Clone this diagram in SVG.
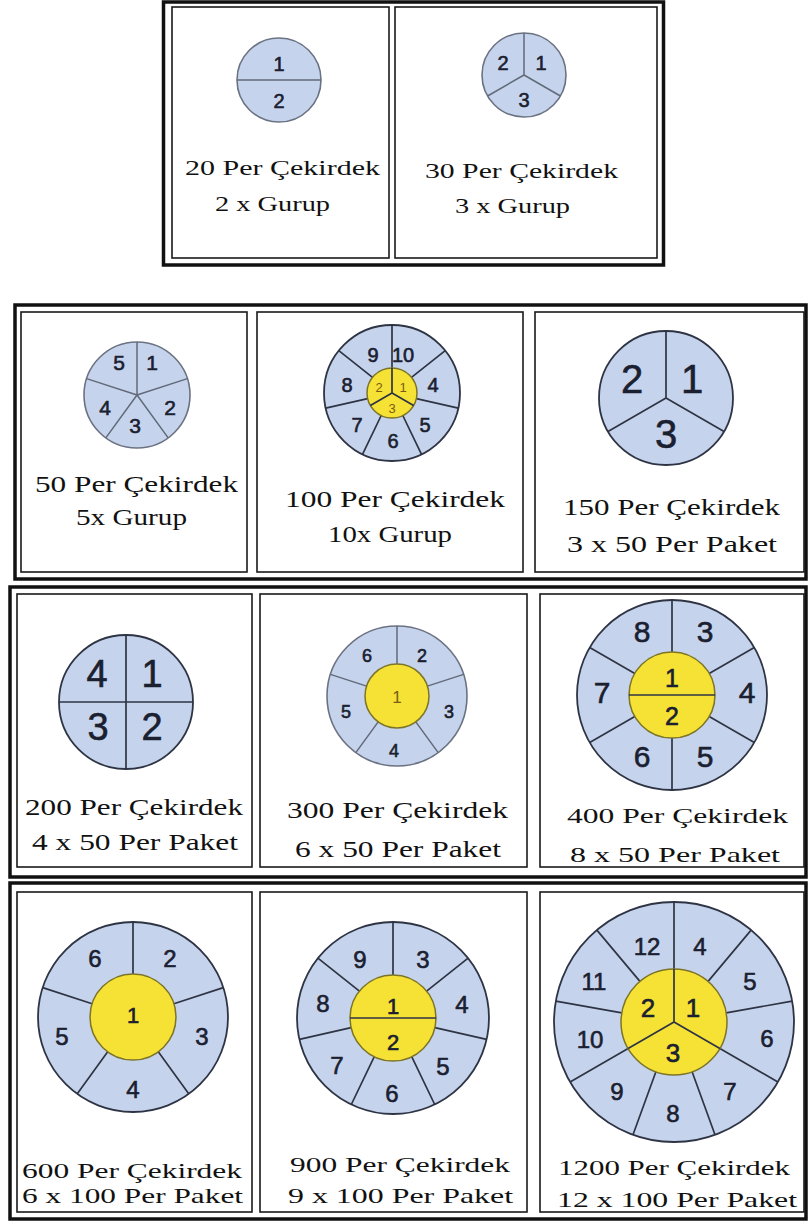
<svg xmlns="http://www.w3.org/2000/svg" width="808" height="1227" viewBox="0 0 808 1227">
<style>
.outer{fill:none;stroke:#111;stroke-width:3.5}
.panel{fill:#fff;stroke:#1a1a1a;stroke-width:1.6}
.disc{fill:#c5d4ec;stroke:#2e3444;stroke-width:1.8}
.discl{fill:#c5d4ec;stroke:#6b7282;stroke-width:1.6}
.core{fill:#f6e234;stroke:#7d7428;stroke-width:1.5}
.sp{stroke:#2e3444;stroke-width:1.7;fill:none}
.spl{stroke:#626a7a;stroke-width:1.5;fill:none}
.n{font-family:"Liberation Sans",Arial,sans-serif;fill:#1b2030;text-anchor:middle;stroke:#1b2030;stroke-width:0.6}
.ni{font-family:"Liberation Sans",Arial,sans-serif;fill:#7a5a14;text-anchor:middle}
.cap{font-family:"Liberation Serif","Times New Roman",serif;fill:#111}
</style>
<rect x="0" y="0" width="808" height="1227" fill="#fff"/>

<!-- frames -->
<g id="frames">
<rect class="outer" x="163.5" y="2" width="500" height="263"/>
<rect class="outer" x="15" y="305" width="791" height="274"/>
<rect class="outer" x="10" y="587" width="796" height="290"/>
<rect class="outer" x="10" y="883" width="796" height="336" stroke-width="4"/>
</g>

<g id="n20">
<rect class="panel" x="172" y="7" width="217" height="251"/>
<circle class="discl" cx="279" cy="80" r="42"/>
<line class="spl" x1="237" y1="80" x2="321" y2="80"/>
<text class="n" x="279" y="71" font-size="20">1</text>
<text class="n" x="279" y="108" font-size="20">2</text>
<text class="cap" x="185" y="175" font-size="21" textLength="195" lengthAdjust="spacingAndGlyphs">20 Per Çekirdek</text>
<text class="cap" x="215" y="211" font-size="21" textLength="115" lengthAdjust="spacingAndGlyphs">2 x Gurup</text>
</g>

<g id="n30">
<rect class="panel" x="395" y="7" width="262" height="251"/>
<circle class="discl" cx="524" cy="75" r="42"/>
<path class="spl" d="M524 75V33M524 75L487.6 96M524 75L560.4 96"/>
<text class="n" x="503" y="70" font-size="20">2</text>
<text class="n" x="541" y="70" font-size="20">1</text>
<text class="n" x="524" y="107" font-size="20">3</text>
<text class="cap" x="425" y="178" font-size="21" textLength="193" lengthAdjust="spacingAndGlyphs">30 Per Çekirdek</text>
<text class="cap" x="455" y="213" font-size="21" textLength="115" lengthAdjust="spacingAndGlyphs">3 x Gurup</text>
</g>

<g id="n50">
<rect class="panel" x="21" y="312" width="226" height="260"/>
<circle class="discl" cx="137" cy="395" r="53"/>
<path class="spl" d="M137 395V342M137 395L187.4 378.6M137 395L168.2 437.9M137 395L105.8 437.9M137 395L86.6 378.6"/>
<text class="n" x="119" y="370" font-size="21">5</text>
<text class="n" x="152" y="370" font-size="21">1</text>
<text class="n" x="170" y="415" font-size="21">2</text>
<text class="n" x="135" y="433" font-size="21">3</text>
<text class="n" x="105" y="415" font-size="21">4</text>
<text class="cap" x="35" y="492" font-size="23" textLength="203" lengthAdjust="spacingAndGlyphs">50 Per Çekirdek</text>
<text class="cap" x="76" y="525" font-size="23" textLength="111" lengthAdjust="spacingAndGlyphs">5x Gurup</text>
</g>

<g id="n100">
<rect class="panel" x="257" y="312" width="266" height="260"/>
<circle class="disc" cx="392" cy="393" r="68"/>
<path class="sp" d="M392 368V325M411.5 377.4L445.2 350.6M416.4 398.6L458.3 408.1M402.8 415.5L421.5 454.3M381.2 415.5L362.5 454.3M367.6 398.6L325.7 408.1M372.5 377.4L338.8 350.6"/>
<circle class="core" cx="392" cy="393" r="25"/>
<path class="sp" stroke-width="1.2" d="M392 393V368M392 393L370.4 405.5M392 393L413.6 405.5"/>
<text class="n" x="373" y="362" font-size="20">9</text>
<text class="n" x="403" y="362" font-size="20">10</text>
<text class="n" x="433" y="392" font-size="20">4</text>
<text class="n" x="425" y="432" font-size="20">5</text>
<text class="n" x="393" y="448" font-size="20">6</text>
<text class="n" x="357" y="432" font-size="20">7</text>
<text class="n" x="347" y="392" font-size="20">8</text>
<text class="ni" x="379" y="392" font-size="13">2</text>
<text class="ni" x="403" y="392" font-size="13">1</text>
<text class="ni" x="392" y="413" font-size="13">3</text>
<text class="cap" x="285" y="507" font-size="24" textLength="220" lengthAdjust="spacingAndGlyphs">100 Per Çekirdek</text>
<text class="cap" x="328" y="542" font-size="24" textLength="124" lengthAdjust="spacingAndGlyphs">10x Gurup</text>
</g>

<g id="n150">
<rect class="panel" x="535" y="312" width="269" height="260"/>
<circle class="disc" cx="666" cy="398" r="67"/>
<path class="sp" d="M666 398V331M666 398L608 431.5M666 398L724 431.5"/>
<text class="n" x="632" y="393" font-size="40">2</text>
<text class="n" x="692" y="393" font-size="40">1</text>
<text class="n" x="666" y="448" font-size="40">3</text>
<text class="cap" x="563" y="515" font-size="24" textLength="217" lengthAdjust="spacingAndGlyphs">150 Per Çekirdek</text>
<text class="cap" x="567" y="552" font-size="24" textLength="210" lengthAdjust="spacingAndGlyphs">3 x 50 Per Paket</text>
</g>

<g id="n200">
<rect class="panel" x="17" y="594" width="235" height="273"/>
<circle class="disc" cx="126" cy="702" r="67"/>
<path class="sp" d="M126 635V769M59 702H193"/>
<text class="n" x="97" y="687" font-size="38">4</text>
<text class="n" x="152" y="687" font-size="38">1</text>
<text class="n" x="98" y="740" font-size="38">3</text>
<text class="n" x="152" y="740" font-size="38">2</text>
<text class="cap" x="25" y="815" font-size="24" textLength="218" lengthAdjust="spacingAndGlyphs">200 Per Çekirdek</text>
<text class="cap" x="32" y="850" font-size="24" textLength="206" lengthAdjust="spacingAndGlyphs">4 x 50 Per Paket</text>
</g>

<g id="n300">
<rect class="panel" x="260" y="594" width="267" height="273"/>
<circle class="discl" cx="397" cy="696" r="70"/>
<path class="spl" d="M397 664V626M427.4 686.1L463.6 674.4M415.8 721.9L438.2 752.6M378.2 721.9L355.8 752.6M366.6 686.1L330.4 674.4"/>
<circle class="core" cx="397" cy="696" r="32" stroke="#a09a40"/>
<text class="n" x="367" y="662" font-size="18">6</text>
<text class="n" x="422" y="662" font-size="18">2</text>
<text class="n" x="449" y="718" font-size="18">3</text>
<text class="n" x="394" y="757" font-size="18">4</text>
<text class="n" x="346" y="718" font-size="18">5</text>
<text class="ni" x="397" y="703" font-size="17" fill="#b08a30">1</text>
<text class="cap" x="287" y="818" font-size="24" textLength="221" lengthAdjust="spacingAndGlyphs">300 Per Çekirdek</text>
<text class="cap" x="295" y="857" font-size="24" textLength="206" lengthAdjust="spacingAndGlyphs">6 x 50 Per Paket</text>
</g>

<g id="n400">
<rect class="panel" x="540" y="594" width="264" height="273"/>
<circle class="disc" cx="672" cy="695" r="95"/>
<path class="sp" d="M672 652V600M672 738V790M709.2 673.5L754.3 647.5M709.2 716.5L754.3 742.5M634.8 716.5L589.7 742.5M634.8 673.5L589.7 647.5"/>
<circle class="core" cx="672" cy="695" r="43"/>
<path class="sp" stroke-width="1.4" d="M629 695H715"/>
<text class="n" x="642" y="642" font-size="30">8</text>
<text class="n" x="705" y="642" font-size="30">3</text>
<text class="n" x="747" y="703" font-size="30">4</text>
<text class="n" x="705" y="767" font-size="30">5</text>
<text class="n" x="642" y="767" font-size="30">6</text>
<text class="n" x="602" y="703" font-size="30">7</text>
<text class="n" x="672" y="687" font-size="25">1</text>
<text class="n" x="672" y="725" font-size="25">2</text>
<text class="cap" x="567" y="823" font-size="22" textLength="221" lengthAdjust="spacingAndGlyphs">400 Per Çekirdek</text>
<text class="cap" x="570" y="862" font-size="22" textLength="210" lengthAdjust="spacingAndGlyphs">8 x 50 Per Paket</text>
</g>

<g id="n600">
<rect class="panel" x="17" y="892" width="235" height="320"/>
<circle class="disc" cx="133" cy="1017" r="95"/>
<path class="sp" d="M133 974V922M173.9 1003.7L223.3 987.6M158.3 1051.8L188.9 1093.9M107.7 1051.8L77.1 1093.9M92.1 1003.7L42.7 987.6"/>
<circle class="core" cx="133" cy="1017" r="43"/>
<text class="n" x="95" y="967" font-size="24">6</text>
<text class="n" x="170" y="967" font-size="24">2</text>
<text class="n" x="202" y="1045" font-size="24">3</text>
<text class="n" x="133" y="1098" font-size="24">4</text>
<text class="n" x="62" y="1045" font-size="24">5</text>
<text class="n" x="133" y="1023" font-size="22" fill="#3a2e10">1</text>
<text class="cap" x="22" y="1178" font-size="22" textLength="220" lengthAdjust="spacingAndGlyphs">600 Per Çekirdek</text>
<text class="cap" x="22" y="1203" font-size="22" textLength="221" lengthAdjust="spacingAndGlyphs">6 x 100 Per Paket</text>
</g>

<g id="n900">
<rect class="panel" x="260" y="892" width="267" height="320"/>
<circle class="disc" cx="393" cy="1018" r="96"/>
<path class="sp" d="M393 975V922M426.6 991.2L468.1 958.1M434.9 1027.6L486.6 1039.4M411.7 1056.7L434.7 1104.5M374.3 1056.7L351.3 1104.5M351.1 1027.6L299.4 1039.4M359.4 991.2L317.9 958.1"/>
<circle class="core" cx="393" cy="1018" r="43"/>
<path class="sp" stroke-width="1.4" d="M350 1018H436"/>
<text class="n" x="360" y="968" font-size="24">9</text>
<text class="n" x="423" y="968" font-size="24">3</text>
<text class="n" x="462" y="1013" font-size="24">4</text>
<text class="n" x="443" y="1075" font-size="24">5</text>
<text class="n" x="392" y="1102" font-size="24">6</text>
<text class="n" x="337" y="1074" font-size="24">7</text>
<text class="n" x="323" y="1012" font-size="24">8</text>
<text class="n" x="393" y="1014" font-size="22">1</text>
<text class="n" x="393" y="1050" font-size="22">2</text>
<text class="cap" x="290" y="1172" font-size="22" textLength="220" lengthAdjust="spacingAndGlyphs">900 Per Çekirdek</text>
<text class="cap" x="288" y="1203" font-size="22" textLength="225" lengthAdjust="spacingAndGlyphs">9 x 100 Per Paket</text>
</g>

<g id="n1200">
<rect class="panel" x="540" y="892" width="264" height="320"/>
<circle class="disc" cx="674" cy="1022" r="120"/>
<path class="sp" d="M674 969V902M708.1 981.4L751.1 930.1M726.2 1012.8L792.2 1001.2M719.9 1048.5L777.9 1082M692.1 1071.8L715 1134.8M655.9 1071.8L633 1134.8M628.1 1048.5L570.1 1082M621.8 1012.8L555.8 1001.2M639.9 981.4L596.9 930.1"/>
<circle class="core" cx="674" cy="1022" r="53"/>
<path class="sp" stroke-width="1.5" d="M674 1022V969M674 1022L628.1 1048.5M674 1022L719.9 1048.5"/>
<text class="n" x="647" y="955" font-size="24">12</text>
<text class="n" x="700" y="955" font-size="24">4</text>
<text class="n" x="750" y="990" font-size="24">5</text>
<text class="n" x="767" y="1047" font-size="24">6</text>
<text class="n" x="730" y="1100" font-size="24">7</text>
<text class="n" x="673" y="1122" font-size="24">8</text>
<text class="n" x="617" y="1100" font-size="24">9</text>
<text class="n" x="590" y="1048" font-size="24">10</text>
<text class="n" x="594" y="990" font-size="24">11</text>
<text class="n" x="648" y="1017" font-size="26">2</text>
<text class="n" x="693" y="1017" font-size="26">1</text>
<text class="n" x="673" y="1062" font-size="26">3</text>
<text class="cap" x="558" y="1175" font-size="22" textLength="232" lengthAdjust="spacingAndGlyphs">1200 Per Çekirdek</text>
<text class="cap" x="557" y="1207" font-size="22" textLength="240" lengthAdjust="spacingAndGlyphs">12 x 100 Per Paket</text>
</g>
</svg>
